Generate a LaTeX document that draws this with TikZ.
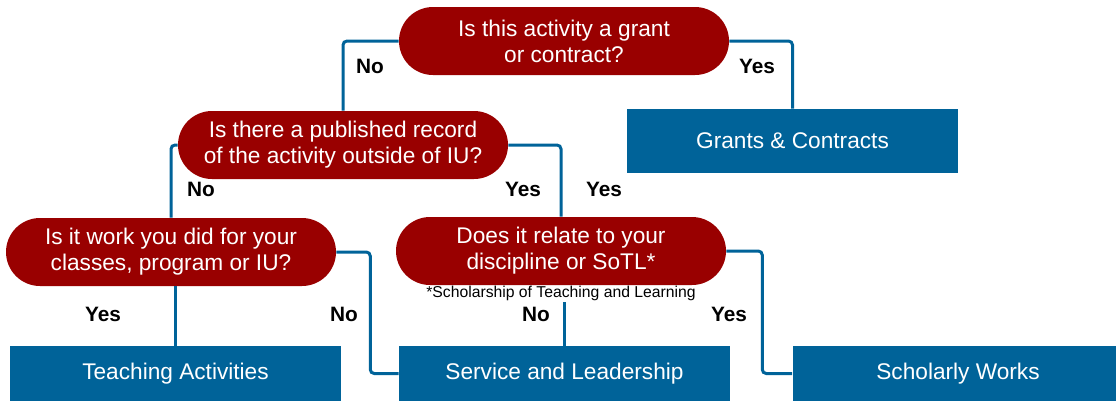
\documentclass[tikz,border=0pt]{standalone}
\usepackage{fontspec}
\setmainfont{Liberation Sans}
\definecolor{iured}{RGB}{153,0,0}
\definecolor{iublue}{RGB}{0,99,153}
\begin{document}
\begin{tikzpicture}[x=0.75pt,y=-0.75pt,
    question/.style={fill=iured,text=white,rectangle,rounded corners=25.5pt,
      minimum width=247.5pt,minimum height=51pt,inner sep=0pt,align=center,
      font=\fontsize{17}{19.5}\selectfont},
    outcome/.style={fill=iublue,text=white,rectangle,minimum width=248.25pt,
      minimum height=48pt,inner sep=0pt,font=\fontsize{17}{19.5}\selectfont},
    answer/.style={font=\fontsize{15.6}{18}\selectfont\bfseries,inner sep=0pt},
    link/.style={draw=iublue,line width=2.25pt,rounded corners=3pt}]
    \useasboundingbox (0,0) rectangle (1116,401); % page = picture size
    \clip (0,0) rectangle (1116,401);
    \node[question] (q1) at (564,41) {Is this activity a grant\\or contract?};
    \node[question] (q2) at (343,145) {Is there a published record\\of the activity outside of IU?};
    \node[question] (q3) at (171,252) {Is it work you did for your\\classes, program or IU?};
    \node[question] (q4) at (561,251) {Does it relate to your\\discipline or SoTL*};
    \node[font=\fontsize{11.8}{13}\selectfont,inner sep=1pt] (note) at (561,293) {*Scholarship of Teaching and Learning};

    \node[outcome] (grants) at (792.5,141) {Grants \& Contracts};
    \node[outcome,minimum height=41.25pt] (teach) at (175.5,373.5) {Teaching Activities};
    \node[outcome,minimum height=41.25pt] (serv) at (564.5,373.5) {Service and Leadership};
    \node[outcome,minimum height=41.25pt] (schol) at (958,373.5) {Scholarly Works};

    \draw[link] (q1.west) -| (q2.north);
    \draw[link] (q1.east) -| (grants.north);
    \draw[link] (q2.west) -| (q3.north);
    \draw[link] (q2.east) -| (q4.north);
    \draw[link] (teach.north) -- (teach.north |- q3.south);
    \draw[link] (q3.east) -- ++(34,0) |- (serv.west);
    \draw[link] (serv.north) -- (serv.north |- note.south);
    \draw[link] (q4.east) -- ++(36,0) |- (schol.west);

    \foreach \t/\x/\y [count=\i] in {No/370/66,Yes/757/66,No/201/189,Yes/523/189,
      Yes/604/189,Yes/103/314,No/344/314,No/536/314,Yes/729/314}{%
      \node[answer] (ans\i) at (\x,\y) {\t};
    }
\end{tikzpicture}
\end{document}
